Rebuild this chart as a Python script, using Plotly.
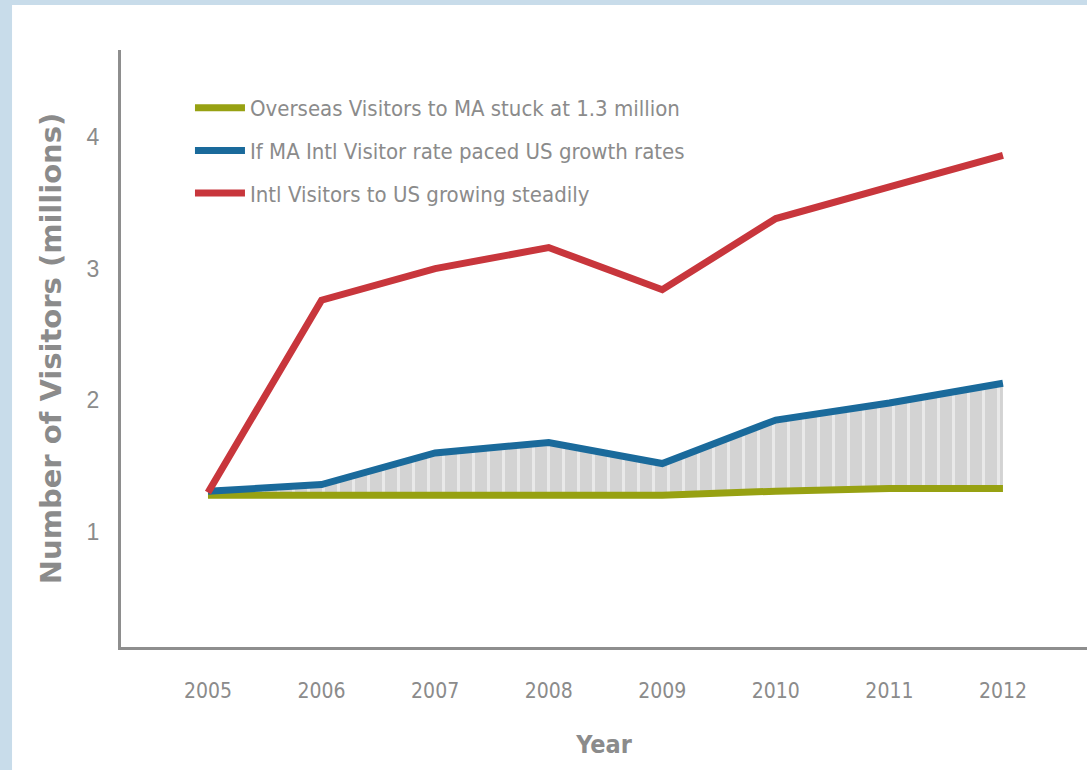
import plotly.graph_objects as go

years = [2005, 2006, 2007, 2008, 2009, 2010, 2011, 2012]
overseas_ma = [1.28, 1.28, 1.28, 1.28, 1.28, 1.31, 1.33, 1.33]
ma_paced_us = [1.31, 1.36, 1.60, 1.68, 1.52, 1.85, 1.98, 2.13]
intl_us = [1.30, 2.76, 3.00, 3.16, 2.84, 3.38, 3.62, 3.86]

names = [
    "Overseas Visitors to MA stuck at 1.3 million",
    "If MA Intl Visitor rate paced US growth rates",
    "Intl Visitors to US growing steadily",
]
y_ticks = [1, 2, 3, 4]

GREEN = "#97a112"
BLUE = "#1a6a9b"
RED = "#c8363c"
GRAY_TXT = "#8b8b8b"
NARROW = "Liberation Sans Narrow, Arial Narrow, DejaVu Sans Condensed, sans-serif"

fig = go.Figure()
fig.add_trace(go.Scatter(x=years, y=overseas_ma, mode="lines", name=names[0],
                         line=dict(color=GREEN, width=7), legendgroup="g1"))
fig.add_trace(go.Scatter(x=years, y=ma_paced_us, mode="lines", showlegend=False,
                         line=dict(width=0, color="rgba(0,0,0,0)"), fill="tonexty",
                         fillcolor="#d3d3d3",
                         fillpattern=dict(shape="|", bgcolor="#d3d3d3", fgcolor="white",
                                          size=15, solidity=0.2),
                         hoverinfo="skip"))
fig.add_trace(go.Scatter(x=years, y=ma_paced_us, mode="lines", name=names[1],
                         line=dict(color=BLUE, width=7), legendgroup="g2"))
fig.add_trace(go.Scatter(x=years, y=intl_us, mode="lines", name=names[2],
                         line=dict(color=RED, width=7), legendgroup="g3"))

fig.update_layout(
    width=1087, height=770,
    margin=dict(l=121, r=0, t=50, b=123),
    paper_bgcolor="#c8dcea",
    plot_bgcolor="white",
    showlegend=True,
    legend=dict(x=0.0714, y=0.938, xanchor="left", yanchor="top",
                bgcolor="rgba(0,0,0,0)", font=dict(family=NARROW, size=22, color=GRAY_TXT),
                tracegroupgap=11, itemwidth=50),
    shapes=[dict(type="rect", xref="paper", yref="paper", x0=-0.1128, x1=1.01,
                 y0=-0.25, y1=1.0754, fillcolor="white", line=dict(width=0), layer="below")],
    xaxis=dict(range=[2004.234, 2012.74], tickvals=years, ticktext=[str(y) for y in years],
               showgrid=False, zeroline=False, showline=True, linecolor="#8e8e8e", linewidth=3,
               ticks="", ticklabelstandoff=23,
               tickfont=dict(family=NARROW, size=21, color=GRAY_TXT),
               title=dict(text="<b>Year</b>", font=dict(family=NARROW, size=25, color=GRAY_TXT),
                          standoff=34)),
    yaxis=dict(range=[0.127, 4.66], tickvals=y_ticks, ticktext=[str(v) for v in y_ticks],
               showgrid=False, zeroline=False, showline=True, linecolor="#8e8e8e", linewidth=3,
               ticks="", ticklabelstandoff=14,
               tickfont=dict(family="Liberation Sans, Arial, sans-serif", size=23, color=GRAY_TXT),
               title=dict(text="<b>Number of Visitors (millions)</b>",
                          font=dict(family="DejaVu Sans, sans-serif", size=29, color=GRAY_TXT),
                          standoff=17)),
)

fig.write_html("out.html")
